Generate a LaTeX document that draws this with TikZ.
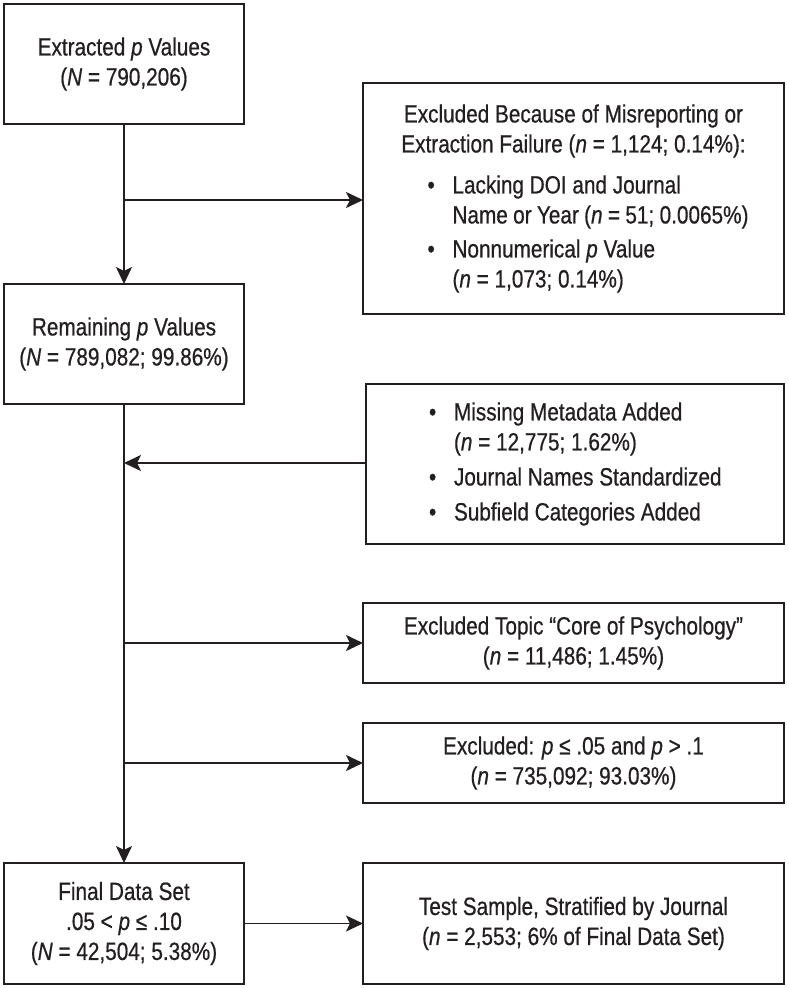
\documentclass[tikz,border=0pt]{standalone}
\usepackage{fontspec}
\setmainfont[FakeStretch=0.83,FakeBold=0.6]{Liberation Sans}
\usetikzlibrary{arrows.meta}
\definecolor{ink}{HTML}{231F20}
\newcommand{\itm}[1]{\hspace*{29pt}\makebox[25pt][l]{\textbullet}#1}
\newcommand{\cnt}[1]{\hspace*{54pt}#1}
\begin{document}
\begin{tikzpicture}[x=1pt,y=-1pt,
  every node/.style={inner sep=0pt, outer sep=0pt},
  box/.style={draw=ink, line width=1.8pt, font=\fontsize{25}{30}\selectfont, text=ink, align=center},
  conn/.style={draw=ink, line width=1.8pt},
  arr/.style={conn, -{Stealth[length=17pt,width=16pt,inset=4pt]}}]
\useasboundingbox (0,0) rectangle (788,988);
% boxes
\node[box, minimum width=240pt, minimum height=120pt] (ext) at (124,64) {Extracted \textit{p} Values\\(\textit{N} = 790,206)};
\node[box, minimum width=421pt, minimum height=231pt] (exc1) at (573.5,198.5) {%
  \begin{minipage}{350pt}\fontsize{25}{30}\selectfont
  \centering Excluded Because of Misreporting or\\Extraction Failure (\textit{n} = 1,124; 0.14\%):\par
  \vspace{11pt}\raggedright
  \itm{Lacking DOI and Journal}\\
  \cnt{Name or Year (\textit{n} = 51; 0.0065\%)}\par\vspace{4pt}
  \itm{Nonnumerical \textit{p} Value}\\
  \cnt{(\textit{n} = 1,073; 0.14\%)}
  \end{minipage}};
\node[box, minimum width=240pt, minimum height=120pt] (rem) at (124,344) {Remaining \textit{p} Values\\(\textit{N} = 789,082; 99.86\%)};
\node[box, minimum width=418pt, minimum height=160pt] (meta) at (575,464) {%
  \begin{minipage}{350pt}\fontsize{25}{30}\selectfont\raggedright
  \itm{Missing Metadata Added}\\
  \cnt{(\textit{n} = 12,775; 1.62\%)}\par\vspace{5pt}
  \itm{Journal Names Standardized}\par\vspace{5pt}
  \itm{Subfield Categories Added}
  \end{minipage}};
\node[box, minimum width=421pt, minimum height=80pt] (core) at (573.5,643) {Excluded Topic “Core of Psychology”\\(\textit{n} = 11,486; 1.45\%)};
\node[box, minimum width=421pt, minimum height=80pt] (excp) at (573.5,763) {Excluded: \textit{p} ≤ .05 and \textit{p} > .1\\(\textit{n} = 735,092; 93.03\%)};
\node[box, minimum width=240pt, minimum height=121pt] (fin) at (124,923.5) {Final Data Set\\.05 < \textit{p} ≤ .10\\(\textit{N} = 42,504; 5.38\%)};
\node[box, minimum width=421pt, minimum height=121pt] (test) at (573.5,923.5) {Test Sample, Stratified by Journal\\(\textit{n} = 2,553; 6\% of Final Data Set)};
% junctions on the spine
\coordinate (j1) at (124,200);
\coordinate (j2) at (124,463);
\coordinate (j3) at (124,643);
\coordinate (j4) at (124,763);
% connectors
\draw[arr] (ext.south) -- (rem.north);
\draw[arr] (j1) -- (exc1.west |- j1);
\draw[arr] (rem.south) -- (fin.north);
\draw[arr] (meta.west |- j2) -- (j2);
\draw[arr] (j3) -- (core.west);
\draw[arr] (j4) -- (excp.west);
\draw[arr] (fin.east) -- (test.west);
\end{tikzpicture}
\end{document}
